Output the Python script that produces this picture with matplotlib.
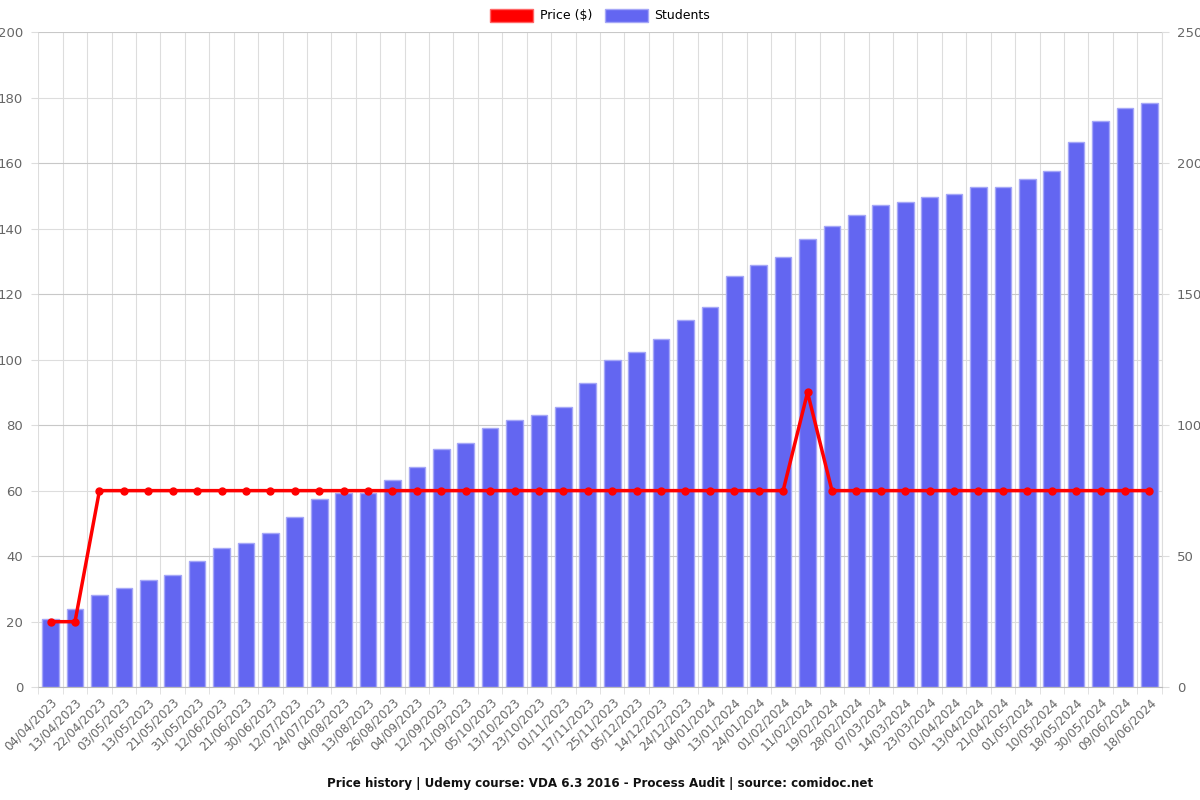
import matplotlib
matplotlib.use("Agg")
import matplotlib.pyplot as plt
from matplotlib.patches import Patch
import numpy as np

dates = ["04/04/2023", "13/04/2023", "22/04/2023", "03/05/2023", "13/05/2023",
         "21/05/2023", "31/05/2023", "12/06/2023", "21/06/2023", "30/06/2023",
         "12/07/2023", "24/07/2023", "04/08/2023", "13/08/2023", "26/08/2023",
         "04/09/2023", "12/09/2023", "21/09/2023", "05/10/2023", "13/10/2023",
         "23/10/2023", "01/11/2023", "17/11/2023", "25/11/2023", "05/12/2023",
         "14/12/2023", "24/12/2023", "04/01/2024", "13/01/2024", "24/01/2024",
         "01/02/2024", "11/02/2024", "19/02/2024", "28/02/2024", "07/03/2024",
         "14/03/2024", "23/03/2024", "01/04/2024", "13/04/2024", "21/04/2024",
         "01/05/2024", "10/05/2024", "18/05/2024", "30/05/2024", "09/06/2024",
         "18/06/2024"]
students = [26, 30, 35, 38, 41, 43, 48, 53, 55, 59,
            65, 72, 74, 74, 79, 84, 91, 93, 99, 102,
            104, 107, 116, 125, 128, 133, 140, 145, 157, 161,
            164, 171, 176, 180, 184, 185, 187, 188, 191, 191,
            194, 197, 208, 216, 221, 223]
price = [20, 20, 60, 60, 60, 60, 60, 60, 60, 60,
         60, 60, 60, 60, 60, 60, 60, 60, 60, 60,
         60, 60, 60, 60, 60, 60, 60, 60, 60, 60,
         60, 90, 60, 60, 60, 60, 60, 60, 60, 60,
         60, 60, 60, 60, 60, 60]

BAR = "#6366f1"
BAR_EDGE = "#a5a7f7"
RED = "#ff0000"
GRID = "#dddddd"
TXT = "#666666"

x = np.arange(len(dates))

fig = plt.figure(figsize=(12, 8), dpi=100)
axb = fig.add_axes([0.032, 0.141, 0.936, 0.819])
axp = axb.twinx()

# bars (students) on the right-hand scale
axb.bar(x, students, width=0.68, color=BAR, edgecolor=BAR_EDGE, linewidth=1, zorder=2)
axb.set_xlim(-0.5, len(dates) - 0.5)
axb.set_ylim(0, 250)
axb.set_yticks(np.arange(0, 251, 50))
axb.set_yticks(np.arange(0, 251, 25), minor=True)
axb.set_xticks(x)
axb.set_xticklabels(dates, rotation=45, ha="right", rotation_mode="anchor")
axb.set_xticks(np.arange(-0.5, len(dates), 1), minor=True)
axb.grid(True, which="minor", color=GRID, linewidth=0.8, zorder=0)
axb.grid(True, which="major", axis="y", color="#c8c8c8", linewidth=0.8, zorder=0)
axb.set_axisbelow(True)
axb.tick_params(axis="x", which="major", length=0, labelsize=8.6, labelcolor=TXT, pad=6)
axb.tick_params(axis="x", which="minor", length=5, color=GRID)
axb.tick_params(axis="y", which="major", length=5, color=GRID, labelsize=9.5,
                labelcolor=TXT, pad=6)
axb.tick_params(axis="y", which="minor", length=0)
axb.yaxis.tick_right()
for s in ["top", "left"]:
    axb.spines[s].set_visible(False)
axb.spines["bottom"].set_color("#bbbbbb")
axb.spines["right"].set_color(GRID)

# price line on the left-hand scale
axp.plot(x, price, color=RED, linewidth=2.5, marker="o", markersize=5, zorder=3)
axp.set_ylim(0, 200)
axp.set_yticks(np.arange(0, 201, 20))
axp.tick_params(axis="y", length=5, color=GRID, labelsize=9.5, labelcolor=TXT, pad=6)
axp.yaxis.tick_left()
for s in ["top", "left", "right", "bottom"]:
    axp.spines[s].set_visible(False)

handles = [Patch(facecolor=RED, edgecolor="#ff6666", label="Price ($)"),
           Patch(facecolor=BAR, edgecolor=BAR_EDGE, label="Students")]
fig.legend(handles=handles, loc="upper center", bbox_to_anchor=(0.5, 1.003), ncol=2,
           frameon=False, fontsize=9, handlelength=3.5, handleheight=1.2,
           columnspacing=1.0, handletextpad=0.5)

fig.text(0.5, 0.021, "Price history | Udemy course: VDA 6.3 2016 - Process Audit | source: comidoc.net",
         ha="center", va="center", fontsize=8.6, fontweight="bold", color="#111111")

fig.savefig("out.png", dpi=100)
